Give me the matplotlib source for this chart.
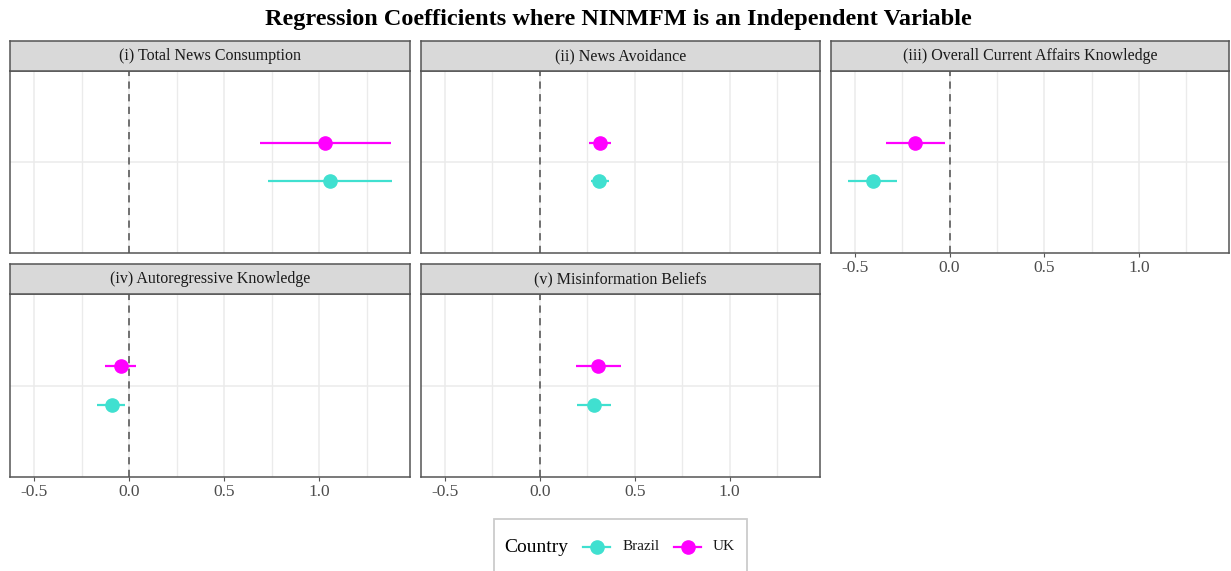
import matplotlib
matplotlib.use("Agg")
import matplotlib.pyplot as plt
from matplotlib.lines import Line2D
from matplotlib.patches import Rectangle
from matplotlib.ticker import FixedLocator

plt.rcParams['font.family'] = ['Liberation Serif', 'DejaVu Serif']

# Outcomes (one facet each)
outcomes = [
    "(i) Total News Consumption",
    "(ii) News Avoidance",
    "(iii) Overall Current Affairs Knowledge",
    "(iv) Autoregressive Knowledge",
    "(v) Misinformation Beliefs",
]

# Coefficient estimates and 95% intervals by country
brazil_est = [1.058, 0.312, -0.405, -0.091, 0.284]
brazil_lo = [0.730, 0.268, -0.535, -0.167, 0.197]
brazil_hi = [1.384, 0.363, -0.277, -0.021, 0.376]

uk_est = [1.030, 0.316, -0.180, -0.044, 0.309]
uk_lo = [0.690, 0.258, -0.335, -0.126, 0.190]
uk_hi = [1.374, 0.374, -0.026, 0.037, 0.426]

countries = ["Brazil", "UK"]
colors = {"Brazil": "#40E0D0", "UK": "#FF00FF"}

x_ticks = [-0.5, 0.0, 0.5, 1.0]
x_tick_labels = ["-0.5", "0.0", "0.5", "1.0"]
x_minor = [-0.25, 0.25, 0.75, 1.25]

W, H = 1231, 571
fig = plt.figure(figsize=(W / 100, H / 100), dpi=100)


def fx(px):
    return px / W


def fy(py):
    return 1 - py / H


def px_axes(x0, y0, x1, y1, **kw):
    return fig.add_axes([x0 / W, 1 - y1 / H, (x1 - x0) / W, (y1 - y0) / H], **kw)


# facet geometry in pixels
cols = [(10, 410), (421, 820), (831, 1229)]
rows = [(41, 71, 253), (264, 294, 477)]
slots = [(0, 0), (0, 1), (0, 2), (1, 0), (1, 1)]
show_x = [False, False, True, True, True]

xlim = (-0.626, 1.476)
dodge = 0.125
frame_col = "#555555"

for i, name in enumerate(outcomes):
    r, c = slots[i]
    x0, x1 = cols[c]
    s0, p0, p1 = rows[r]

    ax = px_axes(x0, p0, x1, p1)
    ax.set_xlim(*xlim)
    ax.set_ylim(0.4, 1.6)
    ax.set_facecolor("white")
    ax.xaxis.set_major_locator(FixedLocator(x_ticks))
    ax.xaxis.set_minor_locator(FixedLocator(x_minor))
    ax.set_yticks([1.0])
    ax.grid(True, which="major", color="#EBEBEB", linewidth=1.1, zorder=0)
    ax.grid(True, which="minor", axis="x", color="#EBEBEB", linewidth=1.0, zorder=0)
    ax.tick_params(axis="y", left=False, labelleft=False)
    ax.tick_params(axis="x", which="minor", bottom=False)
    if show_x[i]:
        ax.set_xticklabels(x_tick_labels)
        ax.tick_params(axis="x", which="major", length=3, color=frame_col,
                       labelsize=12.5, labelcolor="#4D4D4D", pad=2)
    else:
        ax.tick_params(axis="x", which="major", bottom=False, labelbottom=False)
    for sp in ax.spines.values():
        sp.set_color(frame_col)
        sp.set_linewidth(1.1)

    ax.axvline(0, color="#666666", linestyle=(0, (4, 3)), linewidth=1.3, zorder=2)

    for country, est, lo, hi, off in [
        ("Brazil", brazil_est, brazil_lo, brazil_hi, -dodge),
        ("UK", uk_est, uk_lo, uk_hi, dodge),
    ]:
        y = 1.0 + off
        ax.plot([lo[i], hi[i]], [y, y], color=colors[country], linewidth=1.6,
                solid_capstyle="butt", zorder=3)
        ax.plot([est[i]], [y], marker="o", markersize=9.5, color=colors[country],
                linestyle="none", zorder=4)

    sax = px_axes(x0, s0, x1, p0)
    sax.set_facecolor("#D9D9D9")
    sax.set_xticks([])
    sax.set_yticks([])
    for sp in sax.spines.values():
        sp.set_color(frame_col)
        sp.set_linewidth(1.1)
    sax.text(0.5, 0.5, name, ha="center", va="center", fontsize=11.5,
             color="#1A1A1A", transform=sax.transAxes)

fig.text(fx(618), fy(19), "Regression Coefficients where NINMFM is an Independent Variable",
         ha="center", va="center", fontsize=17.5, fontweight="bold")

# Legend: title and keys laid out in one row inside a light frame
fig.patches.append(Rectangle((fx(494), fy(575)), fx(747) - fx(494), fy(519) - fy(575),
                             transform=fig.transFigure, facecolor="white",
                             edgecolor="#CCCCCC", linewidth=1.3, clip_on=False))
ly = fy(547)
fig.text(fx(504), ly, "Country", ha="left", va="center", fontsize=14, color="black")
key_pos = {"Brazil": (583, 610, 623), "UK": (674, 701, 713)}
for country in countries:
    k0, k1, tx = key_pos[country]
    fig.add_artist(Line2D([fx(k0), fx(k1)], [ly, ly], color=colors[country],
                          linewidth=1.6, transform=fig.transFigure))
    fig.add_artist(Line2D([fx((k0 + k1) / 2)], [ly], color=colors[country],
                          marker="o", markersize=9.5, linestyle="none",
                          transform=fig.transFigure))
    fig.text(fx(tx), ly, country, ha="left", va="center", fontsize=11, color="#1A1A1A")

fig.savefig("out.png", dpi=100)
